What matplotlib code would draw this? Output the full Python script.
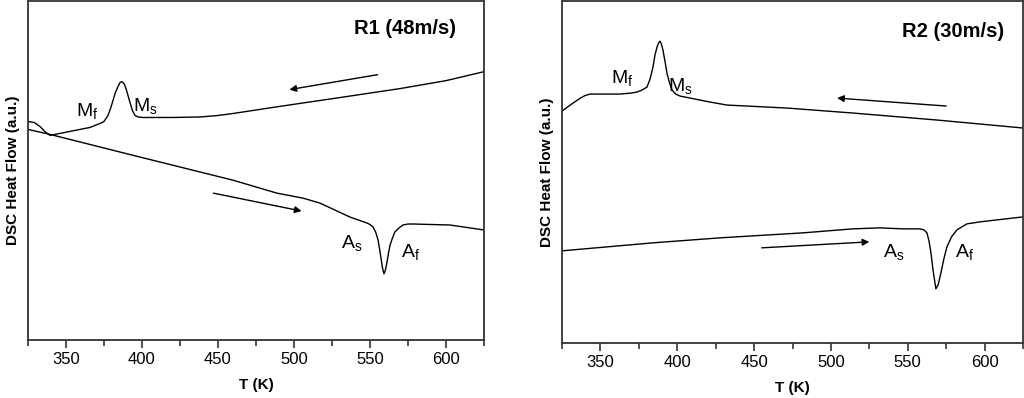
import matplotlib
matplotlib.use("Agg")
import matplotlib.pyplot as plt
from matplotlib.ticker import MultipleLocator

plt.rcParams['font.family'] = ['Liberation Sans', 'DejaVu Sans']
plt.rcParams['mathtext.fontset'] = 'custom'
plt.rcParams['mathtext.rm'] = 'Liberation Sans'

# R1 (48 m/s): temperature (K) and heat flow (a.u.)
r1_cool_T = [325, 329, 332.9, 336, 339.5, 352.6, 365.8, 372.4, 375, 377.6, 379.3, 380.9,
             382.5, 384.2, 385.5, 386.8, 388.2, 389.5, 390.8, 392.1, 393.7, 395.4,
             397.5, 400.7, 420, 438.2, 450, 459.9, 490, 525.7, 569.7, 600, 625]
r1_cool_q = [219, 218, 214, 209, 205, 209, 213, 217, 219, 225, 232, 240,
             248, 254, 258, 259, 257, 252, 245, 238, 230, 225,
             223.5, 223, 223, 223.5, 225, 227, 234, 242, 252, 260, 269]
r1_heat_T = [325, 339.5, 394.1, 459.9, 488.8, 505.9, 517.1, 536.8, 548.0, 550, 552.0,
             553.7, 555.3, 556.3, 557.2, 558.2, 559.2, 560.2, 561.2, 562.2, 563.2,
             564.8, 566.4, 569, 571.7, 575, 578.3, 602.6, 625]
r1_heat_q = [211, 206, 185, 160, 147, 142, 137, 123, 117, 115.5, 113,
             108, 100, 91, 82, 72, 66, 70, 78, 87, 95,
             102, 108, 112, 115, 116, 116, 115, 110]

# R2 (30 m/s)
r2_cool_T = [325, 332.2, 337, 340.0, 343.2, 362.7, 370, 373.8, 377, 380.3, 382.3, 384.2,
             385.5, 386.8, 387.8, 388.8, 389.7, 390.7, 392, 393.3, 395, 396.6,
             399, 401.8, 421.3, 432.4, 471.4, 514.3, 569.0, 625]
r2_cool_q = [232, 240, 245, 247.5, 249, 249, 250, 251, 253, 256, 264, 276,
             288, 296, 300, 302, 299, 293, 282, 270, 260, 253,
             249, 247, 241, 238, 235, 230, 223, 215]
r2_heat_T = [325, 384.2, 427.8, 481.8, 514.3, 531.9, 546.9, 557.9, 560.5, 562.5, 563.8,
             565.1, 566.5, 568.3, 569.8, 571.6, 573.5, 575.5, 578.5, 582.0, 588.5,
             597.0, 625]
r2_heat_q = [92, 100, 105, 110, 114, 115, 114, 114, 113, 110, 102,
             90, 72, 54, 58, 70, 84, 96, 106, 113, 119,
             121, 126]

panels = [
    dict(title='R1 (48m/s)', pos=[28/1024, 58.5/398, 456/1024, 338.5/398], ylim=(0, 340),
         cool=(r1_cool_T, r1_cool_q), heat=(r1_heat_T, r1_heat_q),
         cool_arrow=((555, 266), (497, 251)), heat_arrow=((447, 147), (505, 129)),
         labels=[(364, 230, r'$\mathregular{M_f}$'), (402, 235, r'$\mathregular{M_s}$'),
                 (538, 97, r'$\mathregular{A_s}$'), (577, 88, r'$\mathregular{A_f}$')],
         title_xy=(0.715, 0.92)),
    dict(title='R2 (30m/s)', pos=[562/1024, 55.3/398, 461/1024, 341.5/398], ylim=(0, 342),
         cool=(r2_cool_T, r2_cool_q), heat=(r2_heat_T, r2_heat_q),
         cool_arrow=((575, 237), (504, 245)), heat_arrow=((455, 95), (525, 101)),
         labels=[(364, 265, r'$\mathregular{M_f}$'), (402, 257, r'$\mathregular{M_s}$'),
                 (541, 91, r'$\mathregular{A_s}$'), (587, 91, r'$\mathregular{A_f}$')],
         title_xy=(0.738, 0.91)),
]

fig = plt.figure(figsize=(10.24, 3.98), dpi=100)

for p in panels:
    ax = fig.add_axes(p['pos'])
    ax.plot(*p['cool'], color='black', lw=1.0)
    ax.plot(*p['heat'], color='black', lw=1.0)
    ax.set_xlim(325, 625)
    ax.set_ylim(*p['ylim'])
    ax.xaxis.set_major_locator(MultipleLocator(50))
    ax.xaxis.set_minor_locator(MultipleLocator(25))
    ax.set_yticks([])
    ax.tick_params(axis='x', which='major', direction='out', length=6, width=1.2,
                   labelsize=12, color='#333333', pad=3)
    ax.tick_params(axis='x', which='minor', direction='out', length=4, width=1.2,
                   color='#333333')
    for s in ax.spines.values():
        s.set_linewidth(1.3)
        s.set_color('#333333')
    ax.set_xlabel('T (K)', fontsize=11, fontweight='bold', labelpad=8)
    ax.set_ylabel('DSC Heat Flow (a.u.)', fontsize=11, fontweight='bold', labelpad=6)
    ax.text(*p['title_xy'], p['title'], transform=ax.transAxes, fontsize=14.5,
            fontweight='bold', ha='left', va='center')
    for (x0, y0), (x1, y1) in [p['cool_arrow'], p['heat_arrow']]:
        ax.annotate('', xy=(x1, y1), xytext=(x0, y0),
                    arrowprops=dict(arrowstyle='-|>', color='black', lw=1.0,
                                    mutation_scale=10, shrinkA=0, shrinkB=0))
    for x, y, s in p['labels']:
        ax.text(x, y, s, fontsize=14, ha='center', va='center')

fig.savefig('out.png', dpi=100)
